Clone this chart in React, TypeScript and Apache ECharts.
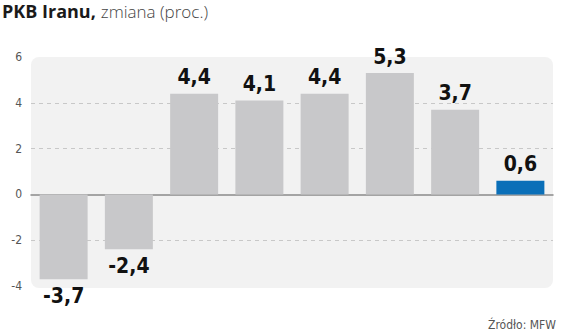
import React, { useEffect, useRef } from "react";
import * as echarts from "echarts";

const categories = ["1", "2", "3", "4", "5", "6", "7", "8"];
const values = [-3.7, -2.4, 4.4, 4.1, 4.4, 5.3, 3.7, 0.6];
const highlightIndex = 7;
const yTicks = [-4, -2, 0, 2, 4, 6];

export default function App() {
  const ref = useRef<HTMLDivElement>(null);
  useEffect(() => {
    const chart = echarts.init(ref.current!, null, { renderer: "svg" });
    chart.setOption({
      animation: false,
      backgroundColor: "#ffffff",
      title: {
        left: 2,
        top: 2,
        padding: 0,
        text: "{b|PKB Iranu,} {n|zmiana (proc.)}",
        textStyle: {
          rich: {
            b: { fontFamily: "Open Sans", fontWeight: "bold", fontSize: 18, color: "#1a1a1a" },
            n: { fontFamily: "Open Sans", fontWeight: 300, fontSize: 17, color: "#444" },
          },
        },
      },
      graphic: [
        {
          type: "rect",
          z: -10,
          shape: { x: 31, y: 57, width: 522, height: 231, r: 8 },
          style: { fill: "#f2f2f2" },
        },
        {
          type: "text",
          x: 556,
          y: 325,
          style: {
            text: "Źródło: MFW",
            align: "right",
            verticalAlign: "middle",
            fontFamily: "DejaVu Sans Condensed",
            fontSize: 12,
            fill: "#555",
          },
        },
      ],
      grid: { left: 31, right: 11, top: 57, bottom: 48 },
      xAxis: {
        type: "category",
        data: categories,
        axisLine: { onZero: true, lineStyle: { color: "#8a8a8a", width: 1.5 } },
        axisTick: { show: false },
        axisLabel: { show: false },
        z: 1,
      },
      yAxis: {
        type: "value",
        min: -4,
        max: 6,
        interval: 2,
        axisLine: { show: false },
        axisTick: { show: false },
        axisLabel: {
          margin: 9,
          fontFamily: "DejaVu Sans Condensed",
          fontSize: 12,
          color: "#555",
          customValues: yTicks,
        },
        splitLine: {
          lineStyle: {
            type: [4, 4],
            color: ["rgba(0,0,0,0)", "#c8c8c8", "rgba(0,0,0,0)", "#c8c8c8", "#c8c8c8", "rgba(0,0,0,0)"],
          },
        },
      },
      series: [
        {
          type: "bar",
          barWidth: 48,
          z: 3,
          data: values.map((v, i) => ({
            value: v,
            itemStyle: { color: i === highlightIndex ? "#0a6fb8" : "#c8c8ca" },
            label: { position: v < 0 ? "bottom" : "top" },
          })),
          label: {
            show: true,
            distance: 6,
            fontFamily: "DejaVu Sans Condensed",
            fontWeight: "bold",
            fontSize: 21,
            color: "#111",
            formatter: (p: any) => String(p.value).replace(".", ","),
          },
        },
      ],
    });
    return () => chart.dispose();
  }, []);
  return <div ref={ref} style={{ width: 564, height: 334, position: "absolute", left: 0, top: 0 }} />;
}
